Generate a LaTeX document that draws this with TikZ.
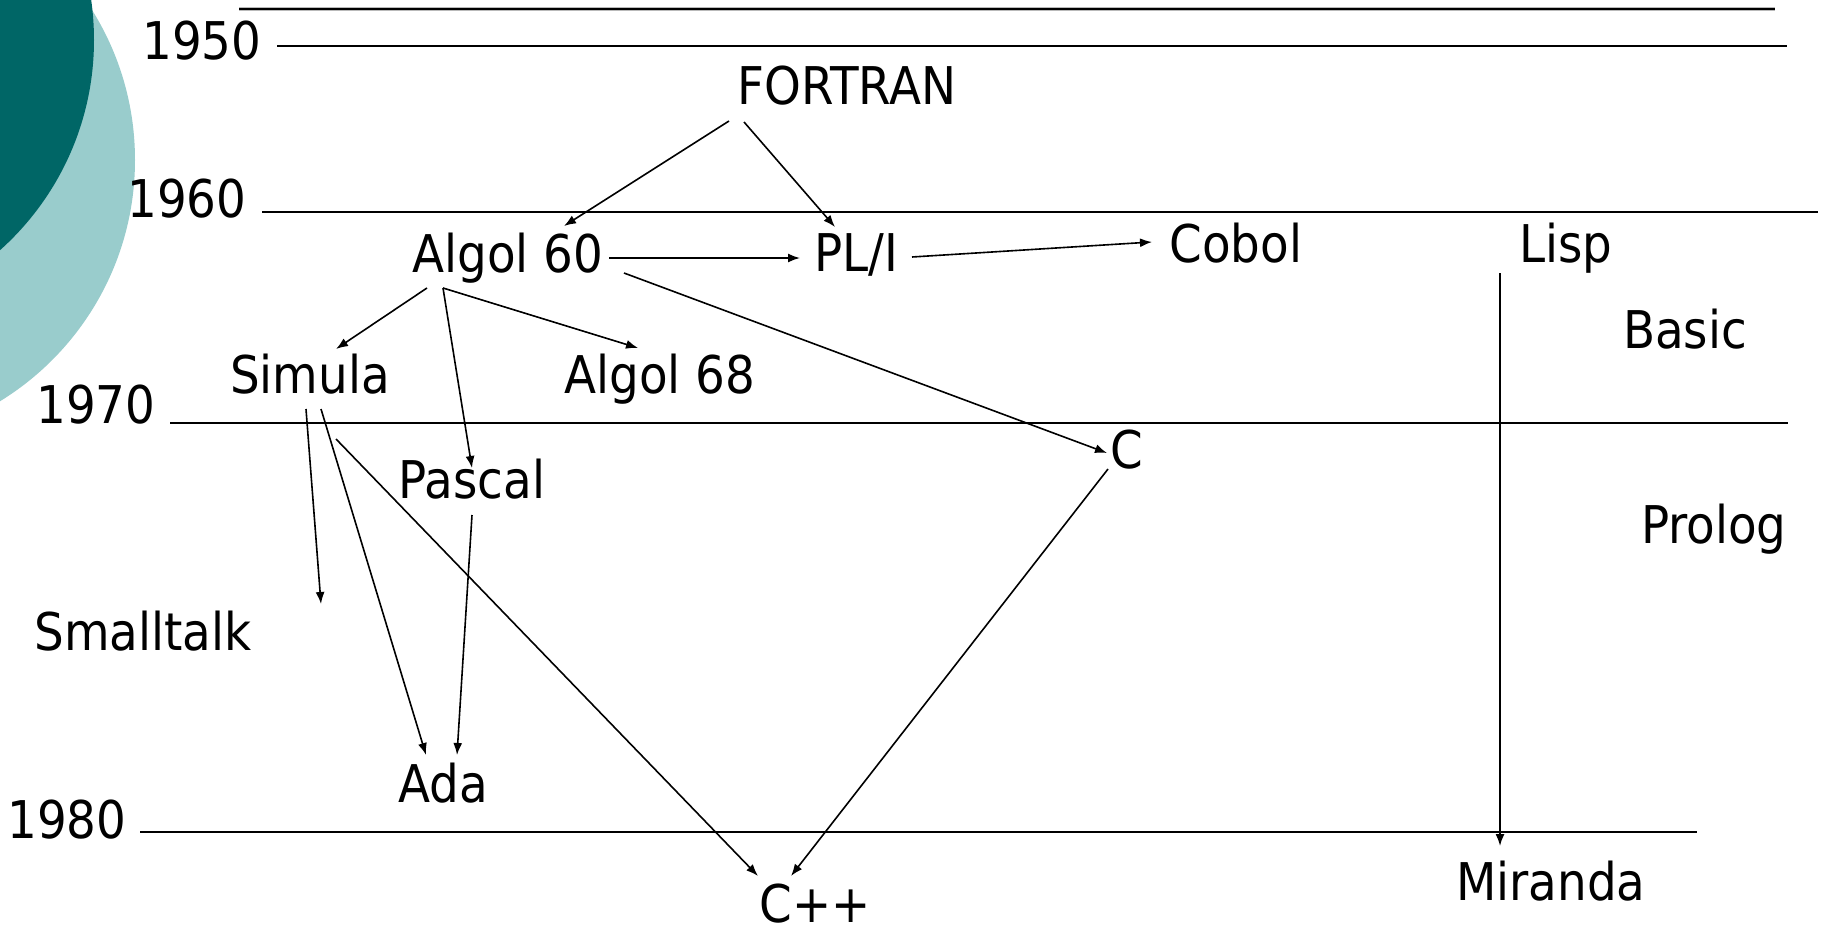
\documentclass[tikz,border=0pt]{standalone}
\usepackage{fontspec}
\setmainfont{DejaVu Sans Condensed}
\usetikzlibrary{calc,arrows.meta}
\definecolor{darkteal}{RGB}{0,102,102}
\definecolor{lightteal}{RGB}{153,204,204}
\tikzset{
  lbl/.style={anchor=base, inner sep=0pt, font=\fontsize{26}{30}\selectfont},
  yearline/.style={line width=1pt, black},
  conn/.style={line width=0.8pt, -{Latex[length=6pt,width=4.5pt]}}
}
\begin{document}
\begin{tikzpicture}[x=0.5pt,y=-0.5pt]
\clip (0,0) rectangle (1823,925);
\fill[white] (0,0) rectangle (1823,925);
% decorative circles
\fill[lightteal] (-148,160) circle[radius=141.5pt];
\fill[darkteal] (-188,40) circle[radius=141pt];
% time lines
\draw[line width=1.6pt, gray!55] (239,9) -- (1775,9);
\draw[line width=0.7pt, black] (239,9) -- (1775,9);
\draw[yearline] (277,46) -- (1787,46);
\draw[yearline, line width=0.8pt] (262,212) -- (1818,212);
\draw[yearline] (170,423) -- (1788,423);
\draw[yearline, line width=0.8pt] (140,832) -- (1697,832);
% year labels
\node[lbl] (y50) at (202,60) {1950};
\node[lbl] (y60) at (187,218) {1960};
\node[lbl] (y70) at (96,423) {1970};
\node[lbl] (y80) at (67,838) {1980};
% languages
\node[lbl] (fortran) at (847,105) {FORTRAN};
\node[lbl] (a60) at (508,272) {Algol 60};
\node[lbl] (pli) at (856,271) {PL/I};
\node[lbl] (cobol) at (1236,263) {Cobol};
\node[lbl] (lisp) at (1566,263) {Lisp};
\node[lbl] (basic) at (1685,348) {Basic};
\node[lbl] (simula) at (310,393) {Simula};
\node[lbl] (a68) at (660,393) {Algol 68};
\node[lbl] (c) at (1127,468) {C};
\node[lbl] (pascal) at (472,498) {Pascal};
\node[lbl] (prolog) at (1714,543) {Prolog};
\node[lbl] (smalltalk) at (143,650) {Smalltalk};
\node[lbl] (ada) at (443,802) {Ada};
\node[lbl] (miranda) at (1551,900) {Miranda};
\node[lbl] (cpp) at (815,922) {C++};
% connectors
\draw[conn] ($(fortran.base)+(-118,16)$) -- ($(a60.base)+(56,-46)$);
\draw[conn] ($(fortran.base)+(-103,17)$) -- ($(pli.base)+(-21,-44)$);
\draw[conn] ($(a60.base)+(101,-14)$) -- ($(pli.base)+(-56,-13)$);
\draw[conn] ($(pli.base)+(56,-14)$) -- ($(cobol.base)+(-84,-21)$);
\draw[conn] ($(a60.base)+(116,1)$) -- ($(c.base)+(-20,-15)$);
\draw[conn] ($(a60.base)+(-81,16)$) -- ($(simula.base)+(26,-44)$);
\draw[conn] ($(a60.base)+(-65,16)$) -- ($(a68.base)+(-22,-45)$);
\draw[conn] ($(a60.base)+(-65,16)$) -- ($(pascal.base)+(0,-30)$);
\draw[conn] ($(simula.base)+(-4,16)$) -- ($(smalltalk.base)+(178,-46)$);
\draw[conn] ($(simula.base)+(11,16)$) -- ($(ada.base)+(-17,-47)$);
\draw[conn] ($(simula.base)+(26,46)$) -- ($(cpp.base)+(-57,-46)$);
\draw[conn] ($(pascal.base)+(0,17)$) -- ($(ada.base)+(14,-47)$);
\draw[conn] ($(c.base)+(-19,1)$) -- ($(cpp.base)+(-24,-46)$);
\draw[conn] ($(lisp.base)+(-66,10)$) -- ($(miranda.base)+(-51,-54)$);
\end{tikzpicture}
\end{document}
